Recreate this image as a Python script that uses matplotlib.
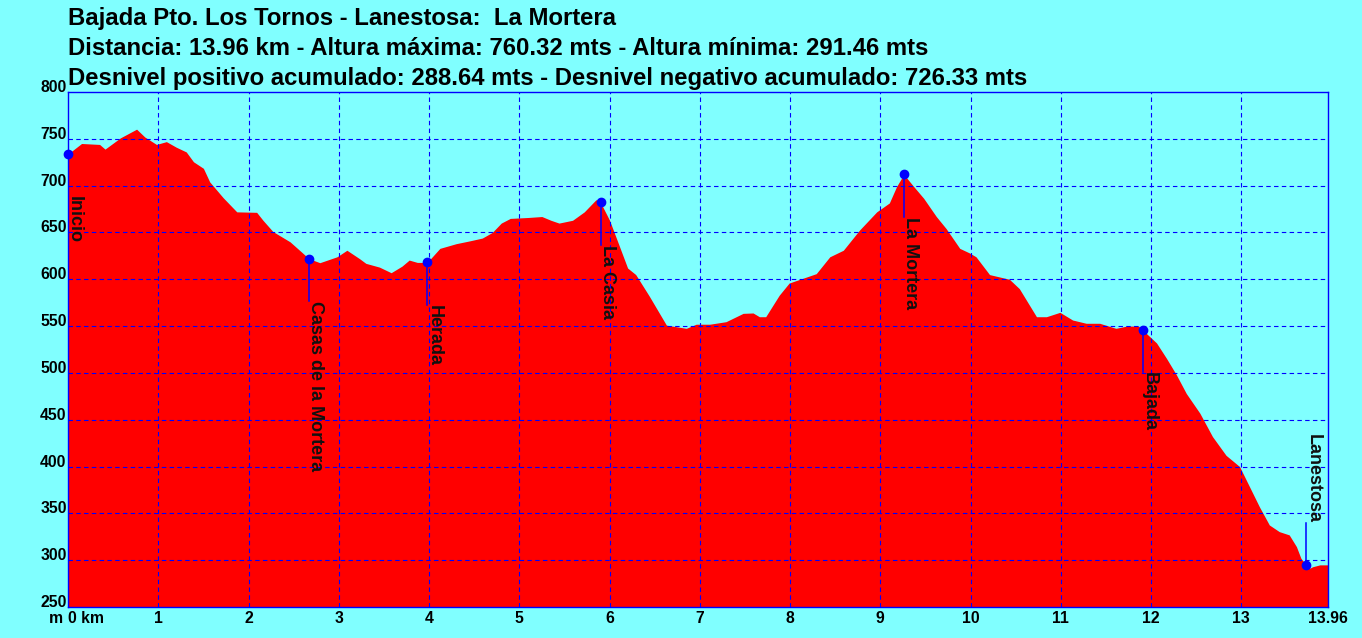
import numpy as np
import matplotlib.pyplot as plt

plt.rcParams['font.family'] = ['Liberation Sans', 'DejaVu Sans']
plt.rcParams['font.weight'] = 'bold'

# profile (km, m)
dist_km = [0.00, 0.15, 0.35, 0.41, 0.58, 0.76, 0.85, 0.98, 1.09, 1.20, 1.31, 1.39,
           1.50, 1.57, 1.72, 1.87, 2.09, 2.16, 2.27, 2.46, 2.67, 2.79, 2.98, 3.09,
           3.23, 3.30, 3.45, 3.58, 3.70, 3.78, 3.87, 3.98, 4.12, 4.30, 4.45, 4.59,
           4.70, 4.80, 4.90, 5.10, 5.25, 5.35, 5.44, 5.59, 5.72, 5.85, 5.90, 6.00,
           6.11, 6.20, 6.29, 6.44, 6.63, 6.85, 6.96, 7.11, 7.29, 7.48, 7.59, 7.66,
           7.73, 7.88, 7.99, 8.11, 8.29, 8.44, 8.59, 8.77, 8.96, 9.10, 9.18, 9.26,
           9.37, 9.48, 9.62, 9.73, 9.88, 9.99, 10.06, 10.21, 10.43, 10.54, 10.73,
           10.84, 10.99, 11.13, 11.28, 11.43, 11.61, 11.73, 11.86, 11.91, 12.06,
           12.17, 12.28, 12.39, 12.54, 12.68, 12.83, 12.98, 13.09, 13.20, 13.31,
           13.42, 13.53, 13.61, 13.66, 13.72, 13.76, 13.79, 13.87, 13.96]
elev_m = [733.8, 745, 744, 739, 751, 760.3, 752, 744, 747, 741, 736, 725.5,
          718.5, 704, 687, 672, 671.5, 663, 651, 640, 622, 617.7, 624, 631,
          622, 617, 613, 607, 614, 620.5, 618, 618, 633, 638, 641, 644,
          650, 660, 665, 666, 667, 663, 660, 663, 672, 685, 682, 663,
          635, 612, 605, 582, 551, 547.6, 552, 552, 554.7, 563.6, 564, 560,
          560, 583, 596, 600, 606, 624, 631, 652.6, 672, 681.5, 699, 712,
          699, 686.5, 667, 654, 633, 628, 624, 605, 600, 590, 560,
          560, 564.7, 556.5, 553, 553, 547.6, 550, 550, 545.5, 532,
          515.6, 498, 478, 457, 432, 412, 400, 378.5, 357, 337.6,
          330.5, 327, 314.5, 302, 294.6, 291.5, 293, 295, 295]

# waypoints
wp_names = ['Inicio', 'Casas de la Mortera', 'Herada', 'La Casia', 'La Mortera', 'Bajada', 'Lanestosa']
wp_km = [0.0, 2.67, 3.98, 5.90, 9.26, 11.91, 13.72]

title_lines = ['Bajada Pto. Los Tornos - Lanestosa:  La Mortera',
               'Distancia: 13.96 km - Altura máxima: 760.32 mts - Altura mínima: 291.46 mts',
               'Desnivel positivo acumulado: 288.64 mts - Desnivel negativo acumulado: 726.33 mts']

y_ticks = list(range(250, 801, 50))
x_ticks = list(range(0, 14)) + [13.96]
x_labels = ['0 km'] + [str(i) for i in range(1, 14)] + ['13.96']

bg = '#80FFFF'
blue = '#0000FF'

fig = plt.figure(figsize=(13.62, 6.38), dpi=100, facecolor=bg)
ax = fig.add_axes([68 / 1362, 1 - 607 / 638, 1260 / 1362, 515 / 638])
ax.set_facecolor(bg)

ax.fill_between(dist_km, elev_m, 250, color='#FF0000', lw=0, zorder=1)

ax.set_xlim(0, 13.96)
ax.set_ylim(250, 800)

for v in range(1, 14):
    ax.axvline(v, color=blue, lw=0.8, ls=(0, (4, 3)), zorder=2)
for v in y_ticks[1:-1]:
    ax.axhline(v, color=blue, lw=0.8, ls=(0, (4, 3)), zorder=2)

for s in ax.spines.values():
    s.set_color(blue)
    s.set_linewidth(1)
    s.set_zorder(5)

ax.set_yticks(y_ticks)
ax.set_yticklabels([str(v) for v in y_ticks], fontsize=11.3, fontweight='bold', va='baseline')
ax.set_xticks(x_ticks)
ax.set_xticklabels(x_labels, fontsize=11.3, fontweight='bold')
ax.xaxis.get_ticklabels()[0].set_ha('left')
ax.tick_params(length=0, pad=3)
ax.tick_params(axis='y', pad=1)
fig.text(63 / 1362, 1 - 611 / 638, 'm', ha='right', va='top',
         fontsize=11.3, fontweight='bold')

wp_elev = np.interp(wp_km, dist_km, elev_m)
off = 45
for name, km, el in zip(wp_names, wp_km, wp_elev):
    if el - off - 150 < 250:
        y_end = el + off
        va = 'bottom'
    else:
        y_end = el - off
        va = 'top'
    ax.plot([km, km], [el, y_end], color=blue, lw=1.1, zorder=3)
    ax.plot(km, el, 'o', color=blue, ms=6, zorder=4, clip_on=False)
    ax.text(km - 0.02, y_end, name, rotation=-90, ha='left', va=va,
            fontsize=13, fontweight='bold', color='#111111', zorder=4)

for i, line in enumerate(title_lines):
    fig.text(68 / 1362, 1 - (25.5 + 29.7 * i) / 638, line, ha='left', va='baseline',
             fontsize=17.2, fontweight='bold')

fig.savefig('out.png', dpi=100, facecolor=bg)
